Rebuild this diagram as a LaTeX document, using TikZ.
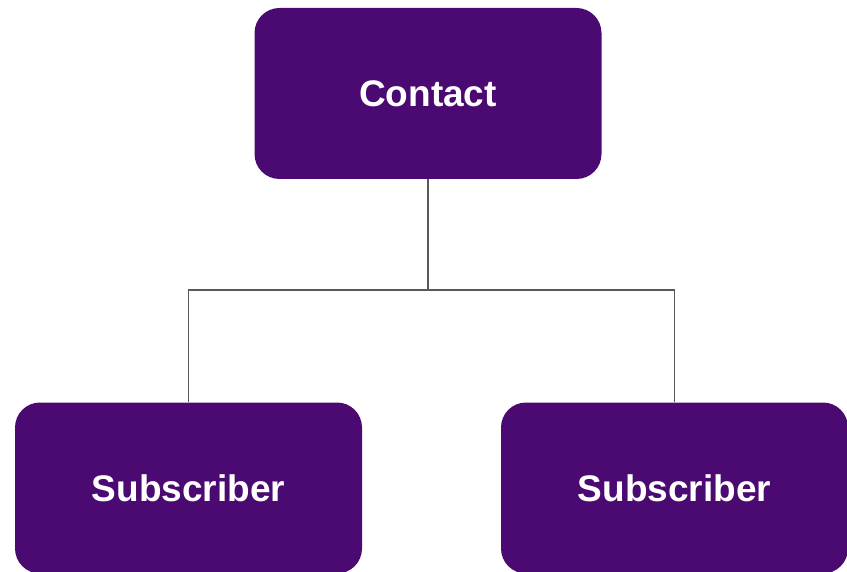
\documentclass[tikz,border=0pt]{standalone}
\usepackage{fontspec}
\setmainfont{Liberation Sans}
\definecolor{boxpurple}{HTML}{4B0A72}
\definecolor{linegray}{HTML}{595959}
\begin{document}
\begin{tikzpicture}[x=1pt,y=-1pt,
  box/.style={draw=none,fill=boxpurple,rounded corners=25pt,minimum width=347pt,minimum height=171pt,inner sep=0pt,
    text=white,font=\fontsize{37}{44}\selectfont\bfseries},
  conn/.style={draw=linegray,line width=1.6pt}]
\useasboundingbox (0,0) rectangle (847,572);
\node[box] (contact) at (428,93.5) {Contact};
\node[box] (sub1) at (188.5,488) {Subscriber};
\node[box] (sub2) at (674.5,488) {Subscriber};
\coordinate (mid) at (428,290);
\draw[conn] (contact.south) -- (mid);
\draw[conn] (sub1.north) |- (mid) -| (sub2.north);
\end{tikzpicture}
\end{document}
